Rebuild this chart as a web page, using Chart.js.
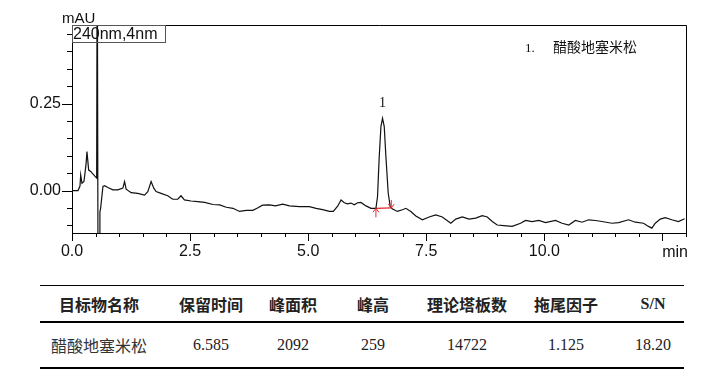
<!DOCTYPE html>
<html>
<head>
<meta charset="utf-8">
<script src="https://cdn.jsdelivr.net/npm/chart.js@4.4.1/dist/chart.umd.min.js"></script>
<style>
body { margin: 0; background: #fff; width: 708px; height: 372px; overflow: hidden; position: relative; }
#wrap { position: absolute; left: 0; top: 0; width: 708px; height: 270px; }
table { position: absolute; left: 40px; top: 285px; border-collapse: collapse; table-layout: fixed; width: 644px; }
th, td { text-align: center; padding: 0; white-space: nowrap; }
th { height: 35px; font: bold 16px "Noto Sans CJK SC", sans-serif; color: #222; border-top: 1.5px solid #000; border-bottom: 2px solid #000; }
th.en { font: bold 16px "Liberation Serif", serif; }
td { height: 44px; font: 16px "Liberation Serif", serif; color: #222; border-bottom: 2px solid #000; }
td.cn { font: 16px "Noto Sans CJK SC", sans-serif; color: #333; }
</style>
</head>
<body>
<div id="wrap"><canvas id="chrom"></canvas></div>
<table id="tbl"></table>
<script>
// chromatogram trace (min, mAU)
const retTimes = [0, 0.127, 0.169, 0.184, 0.211, 0.253, 0.296, 0.317, 0.353, 0.395, 0.479, 0.522,
	0.534, 0.555, 0.574, 0.591, 0.606, 0.655, 0.691, 0.760, 0.866, 0.971, 1.077, 1.113, 1.147, 1.252,
	1.394, 1.535, 1.605, 1.675, 1.732, 1.780, 1.886, 2.027, 2.133, 2.239, 2.308, 2.380, 2.520, 2.661,
	2.809, 2.984, 3.126, 3.267, 3.407, 3.548, 3.689, 3.829, 3.928, 4.034, 4.182, 4.308, 4.463, 4.604,
	4.815, 5.026, 5.168, 5.307, 5.449, 5.533, 5.624, 5.696, 5.766, 5.836, 5.907, 5.977, 6.047, 6.118,
	6.224, 6.330, 6.435, 6.469, 6.505, 6.541, 6.575, 6.611, 6.646, 6.695, 6.737, 6.786, 6.891, 6.997,
	7.069, 7.174, 7.280, 7.419, 7.561, 7.702, 7.841, 8.019, 8.125, 8.264, 8.406, 8.547, 8.686, 8.792,
	8.898, 9.003, 9.145, 9.320, 9.497, 9.603, 9.742, 9.884, 10.025, 10.237, 10.376, 10.517, 10.659,
	10.798, 10.940, 11.081, 11.221, 11.432, 11.573, 11.785, 11.926, 12.101, 12.207, 12.277, 12.349,
	12.455, 12.560, 12.699, 12.841, 12.968]
const mAU = [0, 0.000, 0.013, 0.045, 0.021, 0.026, 0.074, 0.112, 0.059, 0.055, 0.042, 0.036,
	0.80, -0.50, -0.30, -0.061, -0.051, 0.012, 0.014, 0.009, 0.002, 0.002, 0.007, 0.026, 0.004, -0.006,
	-0.008, -0.013, -0.003, 0.026, 0.007, -0.003, -0.008, -0.015, -0.025, -0.025, -0.015, -0.027, -0.030, -0.032,
	-0.034, -0.040, -0.041, -0.048, -0.051, -0.060, -0.057, -0.057, -0.050, -0.042, -0.041, -0.044, -0.039, -0.044,
	-0.046, -0.046, -0.051, -0.055, -0.060, -0.060, -0.045, -0.027, -0.035, -0.038, -0.036, -0.041, -0.035, -0.034,
	-0.044, -0.051, -0.051, -0.017, 0.098, 0.184, 0.208, 0.184, 0.098, -0.007, -0.046, -0.053, -0.060, -0.055,
	-0.051, -0.060, -0.073, -0.084, -0.076, -0.070, -0.076, -0.094, -0.082, -0.076, -0.082, -0.079, -0.072, -0.076,
	-0.089, -0.099, -0.101, -0.103, -0.094, -0.086, -0.089, -0.086, -0.092, -0.086, -0.094, -0.099, -0.086,
	-0.091, -0.084, -0.086, -0.089, -0.094, -0.092, -0.084, -0.091, -0.094, -0.103, -0.108, -0.094,
	-0.082, -0.078, -0.084, -0.089, -0.081]

// integration baseline of peak 1
const baseTimes = [6.435, 6.76]
const baseValues = [-0.051, -0.050]

const peakTimes = [6.575]
const peakHeights = [0.208]
const peakLabels = ["1"]

const compoundNames = ["醋酸地塞米松"]

const yTicks = [-0.10, -0.05, 0.00, 0.05, 0.10, 0.15, 0.20, 0.25, 0.30, 0.35, 0.40, 0.45]
const yLabelled = [0.00, 0.25]

const tableHeaders = ["目标物名称", "保留时间", "峰面积", "峰高", "理论塔板数", "拖尾因子", "S/N"]
const tableRow = ["醋酸地塞米松", "6.585", "2092", "259", "14722", "1.125", "18.20"]
const colWidths = [118, 106, 58, 102, 86, 112, 62]

function fill_table() {
	let html = "<colgroup>" + colWidths.map(w => "<col style='width:" + w + "px'>").join("") + "</colgroup>"
	html += "<tr>" + tableHeaders.map(h => "<th" + (/^[A-Za-z\/]+$/.test(h) ? " class='en'" : "") + ">" + h + "</th>").join("") + "</tr>"
	html += "<tr>" + tableRow.map((c, i) => "<td" + (i == 0 ? " class='cn'" : "") + ">" + c + "</td>").join("") + "</tr>"
	document.getElementById("tbl").innerHTML = html
}

const isMajorX = (v) => Math.abs(v / 2.5 - Math.round(v / 2.5)) < 1e-6
const isMajorY = (v) => yLabelled.some(l => Math.abs(l - v) < 1e-6)

const decor = {
	id: "decor",
	afterDraw(chart) {
		const ctx = chart.ctx
		const a = chart.chartArea
		const xs = chart.scales.x, ys = chart.scales.y
		ctx.save()
		// frame top and right
		ctx.strokeStyle = "#000"
		ctx.lineWidth = 1
		ctx.beginPath()
		ctx.moveTo(a.left, a.top + 0.5); ctx.lineTo(a.right + 0.5, a.top + 0.5); ctx.lineTo(a.right + 0.5, a.bottom)
		ctx.stroke()
		// tick marks
		ctx.beginPath()
		xs.ticks.forEach(t => {
			const px = Math.round(xs.getPixelForValue(t.value)) + 0.5
			ctx.moveTo(px, a.bottom); ctx.lineTo(px, a.bottom + (isMajorX(t.value) ? 8 : 4))
		})
		ys.ticks.forEach(t => {
			const py = Math.round(ys.getPixelForValue(t.value)) + 0.5
			ctx.moveTo(a.left, py); ctx.lineTo(a.left - (isMajorY(t.value) ? 10 : 5), py)
		})
		ctx.stroke()
		// axis titles
		ctx.fillStyle = "#111"
		ctx.font = "15px 'Liberation Sans', Arial"
		ctx.textBaseline = "alphabetic"
		ctx.textAlign = "left"
		ctx.fillText("mAU", 62, 23)
		ctx.font = "16px 'Liberation Sans', Arial"
		ctx.textAlign = "right"
		ctx.fillText("min", a.right + 2, 257)
		// wavelength box
		ctx.strokeStyle = "#555"
		ctx.strokeRect(a.left + 0.5, a.top + 0.5, 93, 17)
		ctx.textAlign = "left"
		ctx.fillText("240nm,4nm", a.left + 1, a.top + 14)
		// peak labels
		ctx.font = "14px 'Liberation Serif', serif"
		ctx.textAlign = "center"
		peakTimes.forEach((t, i) => {
			ctx.fillText(peakLabels[i], xs.getPixelForValue(t), ys.getPixelForValue(peakHeights[i]) - 11)
		})
		// compound list
		ctx.textAlign = "left"
		compoundNames.forEach((n, i) => {
			ctx.font = "13px 'Liberation Serif', serif"
			ctx.fillText((i + 1) + ".", 525, 52 + i * 18)
			ctx.font = "14px 'Noto Sans CJK SC'"
			ctx.fillText(n, 553, 52 + i * 18)
		})
		// baseline arrows
		ctx.strokeStyle = "#e8262a"
		ctx.lineWidth = 1
		ctx.beginPath()
		const sx = xs.getPixelForValue(baseTimes[0]), sy = ys.getPixelForValue(baseValues[0])
		ctx.moveTo(sx, sy + 9); ctx.lineTo(sx, sy)
		ctx.moveTo(sx - 3, sy + 4); ctx.lineTo(sx, sy); ctx.lineTo(sx + 3, sy + 4)
		const ex = xs.getPixelForValue(baseTimes[1]), ey = ys.getPixelForValue(baseValues[1])
		ctx.moveTo(ex, ey - 8); ctx.lineTo(ex, ey)
		ctx.moveTo(ex - 3, ey - 4); ctx.lineTo(ex, ey); ctx.lineTo(ex + 3, ey - 4)
		ctx.stroke()
		ctx.restore()
	}
}

let chromChart

function drawChart() {
	chromChart = new Chart(document.getElementById("chrom").getContext("2d"), {
		type: "line",
		data: {
			datasets: [{
				data: retTimes.map((t, i) => ({ x: t, y: mAU[i] })),
				borderColor: "#111",
				borderWidth: 1.2,
				pointRadius: 0,
				tension: 0
			}, {
				data: baseTimes.map((t, i) => ({ x: t, y: baseValues[i] })),
				borderColor: "#e8262a",
				borderWidth: 1.2,
				pointRadius: 0
			}]
		},
		options: {
			responsive: true,
			maintainAspectRatio: false,
			animation: false,
			layout: { padding: { top: 25, right: 22, left: 0, bottom: 7 } },
			plugins: { legend: { display: false }, tooltip: { enabled: false } },
			scales: {
				x: {
					type: "linear",
					min: 0,
					max: 13,
					grid: { display: false, drawTicks: false },
					border: { display: true, color: "#000", width: 1 },
					ticks: {
						stepSize: 0.5,
						autoSkip: false,
						maxRotation: 0,
						padding: 9,
						color: "#111",
						font: { family: "'Liberation Sans', Arial", size: 16 },
						callback: (v) => (isMajorX(v) && v < 12.5) ? v.toFixed(1) : ""
					},
					afterFit: (s) => { s.height = 30 }
				},
				y: {
					min: -0.122,
					max: 0.476,
					grid: { display: false, drawTicks: false },
					border: { display: true, color: "#000", width: 1 },
					afterBuildTicks: (s) => { s.ticks = yTicks.map(v => ({ value: v })) },
					ticks: {
						autoSkip: false,
						padding: 11,
						color: "#111",
						font: { family: "'Liberation Sans', Arial", size: 16 },
						callback: (v) => isMajorY(v) ? v.toFixed(2) : ""
					},
					afterFit: (s) => { s.width = 72 }
				}
			}
		},
		plugins: [decor]
	})
}

fill_table()
drawChart()
</script>
</body>
</html>
